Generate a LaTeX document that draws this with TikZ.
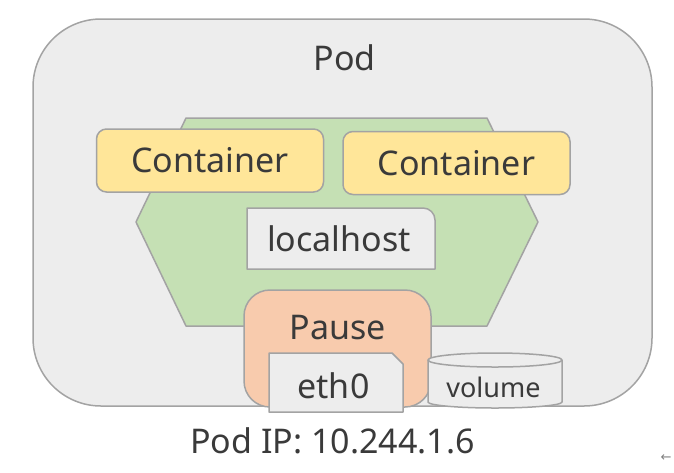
\documentclass[tikz,border=0pt]{standalone}
\usepackage{fontspec}
\setmainfont{Noto Sans}
\newfontfamily\arrowfont{DejaVu Sans}
\usetikzlibrary{positioning}
\definecolor{podgray}{HTML}{EDEDED}
\definecolor{podline}{HTML}{A3A3A3}
\definecolor{netgreen}{HTML}{C5E0B4}
\definecolor{boxyellow}{HTML}{FFE699}
\definecolor{pauseorange}{HTML}{F8CBAD}
\definecolor{labeltext}{HTML}{3A3A3A}
\tikzset{
    shape line/.style={draw=podline,line width=1.5pt,line join=round},
    label text/.style={text=labeltext,inner sep=0pt,font=\fontsize{34}{34}\selectfont},
    container/.style={rectangle,shape line,fill=boxyellow,rounded corners=10pt,
        minimum width=227pt,minimum height=63pt,label text}
}
\begin{document}
\begin{tikzpicture}[x=1pt,y=-1pt]
    \useasboundingbox (0,0) rectangle (674,472);
    \node[rectangle,shape line,fill=podgray,rounded corners=68pt,minimum width=619pt,minimum height=387pt] (pod) at (342.5,212.5) {};
    \node[label text] (podname) at (344.5,58) {Pod};
    % network area
    \draw[shape line,fill=netgreen] (186,118) -- (487,118) -- (538,222) -- (487,326) -- (186,326) -- (136,222) -- cycle;
    \node[container] (c1) at (210,160.5) {Container};
    \node[container] (c2) at (456.5,163) {Container};
    \draw[shape line,fill=podgray] (247,208) -- (423,208) to[out=0,in=90] (435,220) -- (435,269) -- (247,269) -- cycle;
    \node[label text] (localhost) at (339,239) {localhost};
    \node[rectangle,shape line,fill=pauseorange,rounded corners=26pt,minimum width=187pt,minimum height=117pt] (pause) at (337.5,348.5) {};
    \node[label text] (pausename) at (337.5,328) {Pause};
    \draw[shape line,fill=podgray] (269,353) -- (392,353) -- (403,364) -- (403,412) -- (269,412) -- cycle;
    \node[label text] (eth) at (333.5,386) {eth0};
    % volume
    \draw[shape line,fill=podgray] (428,360) -- (428,402) arc[start angle=180,end angle=0,x radius=67,y radius=6] -- (562,360);
    \draw[shape line,fill=podgray] (495,360) ellipse[x radius=67,y radius=7];
    \node[label text,font=\fontsize{27}{27}\selectfont] (volume) at (493.5,387) {volume};
    \node[label text] (podip) at (332.5,441) {Pod IP: 10.244.1.6};
    \node[text=gray,inner sep=0pt,font=\arrowfont\fontsize{13}{13}\selectfont] (back) at (666,458) {←};
\end{tikzpicture}
\end{document}
